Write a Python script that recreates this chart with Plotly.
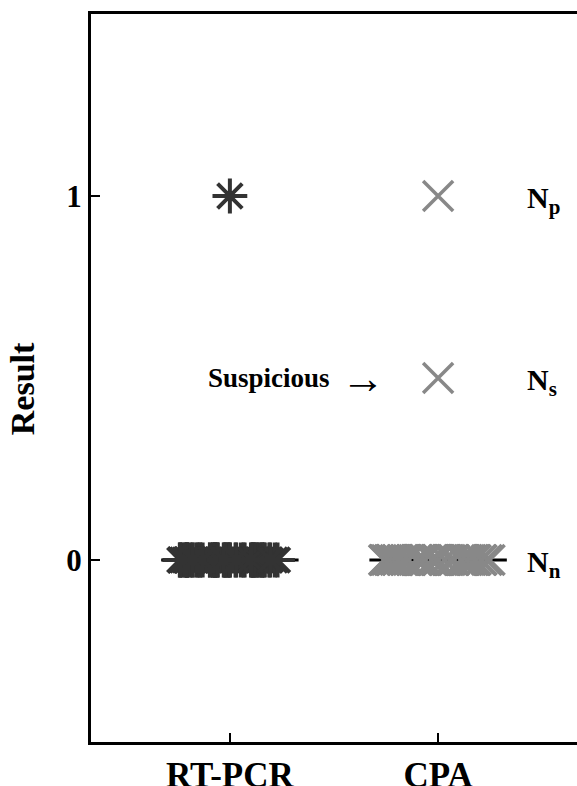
import plotly.graph_objects as go

# ---- data ----
methods = ["RT-PCR", "CPA"]
method_pos = [1, 2]
rtpcr_results = [1] + [0] * 60
cpa_results = [1, 0.5] + [0] * 60
side_labels = ["N<sub>p</sub>", "N<sub>s</sub>", "N<sub>n</sub>"]
side_values = [1, 0.5, 0]
y_ticks = [0, 1]

FONT = "Liberation Serif, Times New Roman, serif"
DARK = "#333333"
GREY = "#888888"

fig = go.Figure()

styles = [
    dict(symbol="asterisk-open", size=29, color=DARK, lw=4, jit=0.74),
    dict(symbol="x-thin-open", size=30, color=GREY, lw=3.5, jit=0.8),
]

for pos, res, st in zip(method_pos, [rtpcr_results, cpa_results], styles):
    neg = [v for v in res if v == 0]
    oth = [v for v in res if v != 0]
    fig.add_trace(go.Box(
        y=neg, x0=pos, width=0.66, boxpoints="all", jitter=st["jit"], pointpos=0,
        fillcolor="rgba(0,0,0,0)", line=dict(color="black", width=3),
        marker=dict(symbol=st["symbol"], size=st["size"], color=st["color"],
                    line=dict(color=st["color"], width=st["lw"])),
        showlegend=False, hoverinfo="y",
    ))
    fig.add_trace(go.Scatter(
        x=[pos] * len(oth), y=oth, mode="markers",
        marker=dict(symbol=st["symbol"], size=st["size"], color=st["color"],
                    line=dict(color=st["color"], width=st["lw"])),
        showlegend=False,
    ))

annotations = []
for lab, v in zip(side_labels, side_values):
    annotations.append(dict(
        x=2.415, y=v, xref="x", yref="y", xanchor="left", yanchor="middle",
        text="<b>" + lab + "</b>", showarrow=False,
        font=dict(family=FONT, size=30, color="black"), yshift=-4,
    ))
annotations.append(dict(
    x=1.49, y=0.5, xref="x", yref="y", xanchor="right", yanchor="middle",
    text="<b>Suspicious</b>", showarrow=False,
    font=dict(family=FONT, size=27, color="black"),
))
annotations.append(dict(
    x=1.755, y=0.5, xref="x", yref="y", xanchor="right", yanchor="middle",
    text="→", showarrow=False, yshift=0,
    font=dict(family=FONT, size=44, color="black"),
))
annotations.append(dict(
    x=-0.142, y=0.486, xref="paper", yref="paper", xanchor="center", yanchor="middle",
    text="<b>Result</b>", textangle=-90, showarrow=False,
    font=dict(family=FONT, size=34, color="black"),
))

fig.update_layout(
    width=577, height=786,
    margin=dict(l=91, r=0, t=14, b=44, autoexpand=False),
    paper_bgcolor="white", plot_bgcolor="white",
    boxmode="overlay",
    annotations=annotations,
    xaxis=dict(
        range=[0.333, 2.667], tickvals=method_pos,
        ticktext=["<b>" + m + "</b>" for m in methods],
        ticks="inside", ticklen=9, tickwidth=2, tickcolor="black",
        showline=True, linewidth=3, linecolor="black", mirror=True,
        showgrid=False, zeroline=False, automargin=False,
        tickfont=dict(family=FONT, size=35, color="black"),
    ),
    yaxis=dict(
        range=[-0.5, 1.5], tickvals=y_ticks,
        ticktext=["<b>%d</b>" % t for t in y_ticks],
        ticks="inside", ticklen=9, tickwidth=2, tickcolor="black",
        showline=True, linewidth=3, linecolor="black",
        showgrid=False, zeroline=False, automargin=False,
        tickfont=dict(family=FONT, size=31, color="black"),
    ),
)

fig.write_html("out.html", config={"displayModeBar": False},
               post_script="document.body.style.margin='0';document.body.style.overflow='hidden';")
